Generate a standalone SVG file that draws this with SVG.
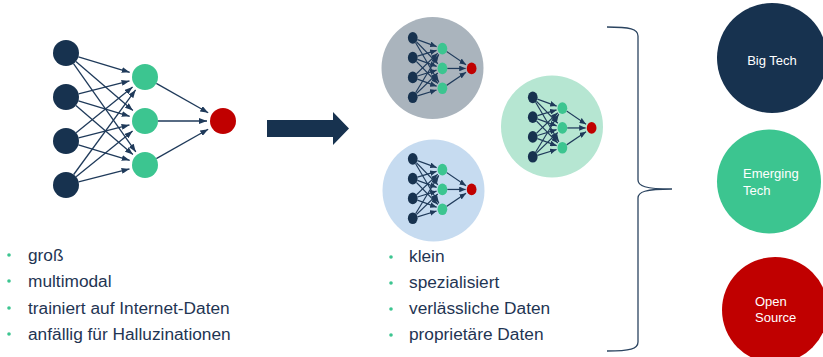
<svg xmlns="http://www.w3.org/2000/svg" xmlns:xlink="http://www.w3.org/1999/xlink" width="823" height="357" viewBox="0 0 823 357">
<style>
.dk{fill:#17324f}
.gn{fill:#3cc590}
.rd{fill:#c00000}
.edge{stroke:#1f3a5a;fill:none}
.txt{font-family:"Liberation Sans",Arial,sans-serif;font-size:17.3px;fill:#1f3553}
.ctxt{font-family:"Liberation Sans",Arial,sans-serif;font-size:13px;fill:#ffffff}
.bul{fill:#3cc590}
</style>
<defs>
<marker id="ah" viewBox="0 0 8 6" refX="8" refY="3" markerWidth="6.15" markerHeight="4.6" markerUnits="strokeWidth" orient="auto">
<path d="M0,0 L8,3 L0,6 z" fill="#1f3a5a"/>
</marker>
</defs>
<rect width="823" height="357" fill="#ffffff"/>

<!-- background circles for the small networks -->
<circle cx="432.5" cy="68" r="51" fill="#aab4bd"/>
<circle cx="433.5" cy="190.5" r="51" fill="#c6dbf0"/>
<circle cx="552" cy="126.5" r="51" fill="#b6e6d2"/>

<g style="stroke-width:1.3">
<g id="mainnet">
<g id="connectors" class="edge" marker-end="url(#ah)">
<line x1="78.4" y1="56.8" x2="129.7" y2="72.3"/>
<line x1="75.9" y1="61.5" x2="132.9" y2="110.6"/>
<line x1="73.5" y1="63.6" x2="135.8" y2="151.9"/>
<line x1="78.6" y1="93.8" x2="129.5" y2="80.9"/>
<line x1="78.4" y1="100.8" x2="129.7" y2="116.3"/>
<line x1="75.9" y1="105.5" x2="132.9" y2="154.6"/>
<line x1="76.1" y1="132.8" x2="132.6" y2="87.1"/>
<line x1="78.6" y1="137.8" x2="129.5" y2="124.9"/>
<line x1="78.4" y1="144.8" x2="129.7" y2="160.3"/>
<line x1="73.7" y1="174.5" x2="135.6" y2="89.9"/>
<line x1="76.1" y1="176.8" x2="132.6" y2="131.1"/>
<line x1="78.6" y1="181.8" x2="129.5" y2="168.9"/>
<line x1="156.3" y1="83.4" x2="208.2" y2="112.7"/>
<line x1="158" y1="121" x2="207" y2="121"/>
<line x1="156.3" y1="158.6" x2="208.2" y2="129.3"/>
</g>
<g id="d1"><circle class="dk" cx="66" cy="53" r="13"/></g>
<g id="d2"><circle class="dk" cx="66" cy="97" r="13"/></g>
<g id="d3"><circle class="dk" cx="66" cy="141" r="13"/></g>
<g id="d4"><circle class="dk" cx="66" cy="185" r="13"/></g>
<g id="g1"><circle class="gn" cx="145" cy="77" r="13"/></g>
<g id="g2"><circle class="gn" cx="145" cy="121" r="13"/></g>
<g id="g3"><circle class="gn" cx="145" cy="165" r="13"/></g>
<g id="r1"><circle class="rd" cx="223" cy="121" r="13"/></g>
</g>
</g>

<!-- small networks -->
<use xlink:href="#mainnet" href="#mainnet" transform="translate(388,14) scale(0.375,0.45)" style="stroke-width:2.8"/>
<use xlink:href="#mainnet" href="#mainnet" transform="translate(388,135) scale(0.375,0.45)" style="stroke-width:2.8"/>
<use xlink:href="#mainnet" href="#mainnet" transform="translate(508,73.5) scale(0.375,0.45)" style="stroke-width:2.8"/>

<!-- big arrow -->
<g id="bigarrow">
<polygon points="267,120 333,120 333,112 349,128.5 333,145 333,137 267,137" fill="#17324f"/>
</g>

<!-- brace -->
<g id="brace">
<path d="M607,27 C630,27 638,29 638,36 L638,180 C638,186 645,189 672,189 C645,189 638,192 638,198 L638,342 C638,349 630,351 607,351" fill="none" stroke="#2b4460" stroke-width="1.3"/>
</g>

<!-- category circles -->
<g id="bigtech">
<circle cx="772" cy="58" r="55" fill="#17324f"/>
<text class="ctxt" x="772" y="65" text-anchor="middle">Big Tech</text>
</g>
<g id="emerging">
<circle cx="769" cy="181.5" r="52" fill="#3cc590"/>
<text class="ctxt" x="743" y="178">Emerging</text>
<text class="ctxt" x="743" y="195">Tech</text>
</g>
<g id="opensource">
<circle cx="775" cy="310" r="53" fill="#c00000"/>
<text class="ctxt" x="755" y="306">Open</text>
<text class="ctxt" x="755" y="322">Source</text>
</g>

<!-- bullet lists -->
<g id="list-left">
<circle class="bul" cx="9" cy="255" r="1.8"/>
<circle class="bul" cx="9" cy="281" r="1.8"/>
<circle class="bul" cx="9" cy="308" r="1.8"/>
<circle class="bul" cx="9" cy="334" r="1.8"/>
<text class="txt" x="28" y="261">groß</text>
<text class="txt" x="28" y="287">multimodal</text>
<text class="txt" x="28" y="314">trainiert auf Internet-Daten</text>
<text class="txt" x="28" y="340">anfällig für Halluzinationen</text>
</g>
<g id="list-right">
<circle class="bul" cx="391" cy="257" r="1.8"/>
<circle class="bul" cx="391" cy="283" r="1.8"/>
<circle class="bul" cx="391" cy="309" r="1.8"/>
<circle class="bul" cx="391" cy="335" r="1.8"/>
<text class="txt" x="409" y="262">klein</text>
<text class="txt" x="409" y="288">spezialisiert</text>
<text class="txt" x="409" y="314">verlässliche Daten</text>
<text class="txt" x="409" y="340">proprietäre Daten</text>
</g>
</svg>
